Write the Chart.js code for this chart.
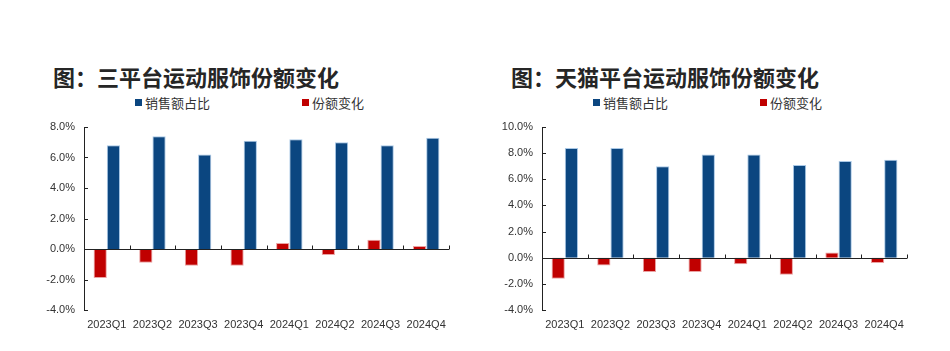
<!DOCTYPE html>
<html>
<head>
<meta charset="utf-8">
<script src="https://cdn.jsdelivr.net/npm/chart.js"></script>
<style>
  body { margin: 0; background: #fff; }
  #wrap { position: relative; width: 950px; height: 351px; overflow: hidden; font-family: "Noto Sans CJK SC", sans-serif; }
  .title { position: absolute; top: 63px; font-size: 22px; line-height: 26px; font-weight: bold; color: #262626; white-space: nowrap; }
  .leg { position: absolute; top: 95px; font-size: 13px; line-height: 16px; color: #333; white-space: nowrap; }
  .leg i { display: inline-block; width: 7px; height: 7px; margin-right: 3px; vertical-align: 2px; }
  .box { position: absolute; top: 110px; width: 475px; height: 241px; }
</style>
</head>
<body>
<div id="wrap">
  <div class="title" style="left:53px">图：三平台运动服饰份额变化</div>
  <div class="title" style="left:511px">图：天猫平台运动服饰份额变化</div>
  <div class="leg" style="left:135px"><i style="background:#0b4680"></i>销售额占比</div>
  <div class="leg" style="left:302px"><i style="background:#c00000"></i>份额变化</div>
  <div class="leg" style="left:593px"><i style="background:#0b4680"></i>销售额占比</div>
  <div class="leg" style="left:760px"><i style="background:#c00000"></i>份额变化</div>
  <div class="box" style="left:0"><canvas id="c1"></canvas></div>
  <div class="box" style="left:475px"><canvas id="c2"></canvas></div>
</div>
<script>
const categories = ['2023Q1', '2023Q2', '2023Q3', '2023Q4', '2024Q1', '2024Q2', '2024Q3', '2024Q4'];
const allSales = [6.8, 7.4, 6.2, 7.1, 7.2, 7.0, 6.8, 7.3];
const allChange = [-1.9, -0.9, -1.1, -1.1, 0.4, -0.4, 0.6, 0.2];
const tmallSales = [8.4, 8.4, 7.0, 7.9, 7.9, 7.1, 7.4, 7.5];
const tmallChange = [-1.6, -0.6, -1.1, -1.1, -0.5, -1.3, 0.4, -0.4];
const allTicks = [-4, -2, 0, 2, 4, 6, 8];
const tmallTicks = [-4, -2, 0, 2, 4, 6, 8, 10];

// inward tick marks and the zero line, placed by the chart's own scales
const innerTicks = {
  id: 'innerTicks',
  afterDatasetsDraw(chart) {
    const { ctx, chartArea, scales: { x, y } } = chart;
    ctx.save();
    ctx.strokeStyle = '#222';
    ctx.lineWidth = 1;
    ctx.beginPath();
    y.ticks.forEach((t, i) => {
      const py = Math.round(y.getPixelForTick(i)) + 0.5;
      ctx.moveTo(chartArea.left, py);
      ctx.lineTo(chartArea.left + 4, py);
    });
    const y0 = Math.round(y.getPixelForValue(0)) + 0.5;
    ctx.moveTo(chartArea.left, y0);
    ctx.lineTo(chartArea.right, y0);
    const half = (x.getPixelForValue(1) - x.getPixelForValue(0)) / 2;
    for (let i = 0; i <= categories.length; i++) {
      const px = Math.round(x.getPixelForValue(i) - half) + 0.5;
      ctx.moveTo(px, y0);
      ctx.lineTo(px, y0 - 4);
    }
    ctx.stroke();
    ctx.restore();
  }
};

function makeChart(id, sales, change, ticks, leftW, rightPad) {
  new Chart(document.getElementById(id), {
    type: 'bar',
    data: {
      labels: categories,
      datasets: [
        { label: '份额变化', data: change, backgroundColor: '#c00000', borderColor: '#eaa3a3', borderWidth: 1 },
        { label: '销售额占比', data: sales, backgroundColor: '#0b4680', borderColor: '#a9c8e6', borderWidth: 1 }
      ]
    },
    options: {
      responsive: true,
      maintainAspectRatio: false,
      animation: false,
      layout: { padding: { top: 17, right: rightPad, bottom: 0, left: 0 } },
      datasets: { bar: { barPercentage: 1, categoryPercentage: 0.58 } },
      plugins: { legend: { display: false }, tooltip: { enabled: false } },
      scales: {
        x: {
          grid: { display: false, drawTicks: false },
          border: { display: false },
          ticks: { color: '#333', font: { family: 'Liberation Sans', size: 11 }, padding: 8, maxRotation: 0, autoSkip: false },
          afterFit(s) { s.height = 41; }
        },
        y: {
          min: ticks[0],
          max: ticks[ticks.length - 1],
          afterBuildTicks(s) { s.ticks = ticks.map(v => ({ value: v })); },
          grid: { display: false, drawTicks: false },
          border: { display: true, color: '#222', width: 1 },
          ticks: { color: '#333', font: { family: 'Liberation Sans', size: 11 }, padding: 9, callback: v => v.toFixed(1) + '%' },
          afterFit(s) { s.width = leftW; }
        }
      }
    },
    plugins: [innerTicks]
  });
}

makeChart('c1', allSales, allChange, allTicks, 84, 26);
makeChart('c2', tmallSales, tmallChange, tmallTicks, 67, 43);
</script>
</body>
</html>
